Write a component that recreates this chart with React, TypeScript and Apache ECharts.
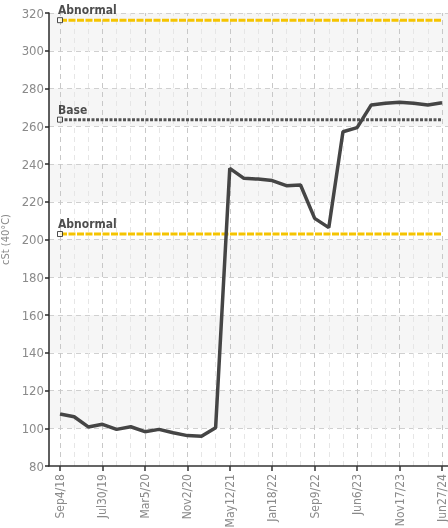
import React, { useEffect, useRef } from "react";
import * as echarts from "echarts";

const tickLabels = ["Sep4/18", "Jul30/19", "Mar5/20", "Nov2/20", "May12/21", "Jan18/22", "Sep9/22", "Jun6/23", "Nov17/23", "Jun27/24"];
const tickIndices = [0, 3, 6, 9, 12, 15, 18, 21, 24, 27];
const yTicks = [80, 100, 120, 140, 160, 180, 200, 220, 240, 260, 280, 300, 320];
const viscosity = [107.5, 106.1, 100.7, 102.1, 99.4, 100.8, 98.2, 99.4, 97.6, 96.1, 95.7, 100.3, 237.7, 232.4, 232.0, 231.2, 228.5, 228.9, 211.2, 206.3, 257.1, 259.3, 271.3, 272.2, 272.7, 272.2, 271.3, 272.5];
const limitNames = ["Abnormal", "Base", "Abnormal"];
const limitValues = [316.2, 263.5, 202.9];
const limitColors = ["#f5c400", "#555555", "#f5c400"];

const X_MIN = -0.7775;
const X_MAX = 27.424;
const FONT = "'DejaVu Sans Condensed', 'Liberation Sans Narrow', 'Roboto', sans-serif";

export default function App() {
  const ref = useRef<HTMLDivElement>(null);
  useEffect(() => {
    if (!ref.current) return;
    const chart = echarts.init(ref.current, null, { renderer: "svg" });
    const lastIdx = viscosity.length - 1;
    const vLines = viscosity.map((_, i) => ({
      xAxis: i,
      lineStyle: {
        color: i % 3 === 0 ? "#c8c8c8" : "#e6e6e6",
        type: [5, 4],
        width: 1,
      },
    }));
    const hLines = yTicks.slice(1).map((t) => ({
      yAxis: t,
      lineStyle: { color: "#d0d0d0", type: [5, 4], width: 1 },
    }));
    const bands: any[] = [];
    for (let i = 1; i < yTicks.length - 1; i += 2) {
      bands.push([{ yAxis: yTicks[i] }, { yAxis: yTicks[i + 1] }]);
    }
    const series: any[] = [
      {
        type: "line",
        data: [],
        silent: true,
        z: 0,
        markArea: {
          silent: true,
          z: 0,
          itemStyle: { color: "#f6f6f6" },
          label: { show: false },
          data: bands,
        },
      },
      {
        type: "line",
        data: [],
        silent: true,
        z: 1,
        markLine: {
          silent: true,
          z: 1,
          symbol: "none",
          label: { show: false },
          animation: false,
          data: [...hLines, ...vLines],
        },
      },
      {
        type: "line",
        data: [],
        silent: true,
        clip: false,
        z: 8,
        markLine: {
          silent: true,
          z: 8,
          symbol: "none",
          label: { show: false },
          animation: false,
          data: [{ xAxis: X_MIN, lineStyle: { color: "#2a2a2a", type: "solid", width: 1.5 } }],
        },
      },
    ];
    limitValues.forEach((v, k) => {
      series.push({
        type: "line",
        data: [[0, v], [lastIdx, v]],
        symbol: "none",
        silent: true,
        lineStyle: { color: limitColors[k], width: 3, type: k === 1 ? [3, 1.5] : [7, 1.5] },
        z: 3,
      });
      series.push({
        type: "scatter",
        data: [[0, v]],
        symbol: "rect",
        symbolSize: 5,
        silent: true,
        itemStyle: { color: "#ffffff", borderColor: "#222", borderWidth: 1 },
        label: {
          show: true,
          formatter: limitNames[k],
          position: [1, -13],
          color: "#222",
          fontSize: 12,
          fontWeight: "bold",
          fontFamily: FONT,
        },
        z: 5,
      });
    });
    series.push({
      type: "line",
      data: viscosity.map((v, i) => [i, v]),
      symbol: "none",
      lineStyle: { color: "#454545", width: 3.5 },
      z: 4,
    });

    chart.setOption({
      animation: false,
      grid: { left: 49, right: 0, top: 13, bottom: 62, outerBoundsMode: "none", containLabel: false },
      xAxis: {
        type: "value",
        min: X_MIN,
        max: X_MAX,
        axisLine: { show: true, onZero: false, lineStyle: { color: "#333", width: 1.5 } },
        axisTick: { show: true, length: 5, customValues: tickIndices, lineStyle: { color: "#333", width: 1.5 } },
        axisLabel: {
          customValues: tickIndices,
          rotate: 90,
          margin: 8,
          color: "#8a8a8a",
          fontSize: 12,
          fontFamily: FONT,
          formatter: (val: number) => {
            const idx = tickIndices.indexOf(Math.round(val));
            return idx >= 0 ? tickLabels[idx] : "";
          },
        },
        splitLine: { show: false },
        z: 10,
      },
      yAxis: {
        type: "value",
        min: yTicks[0],
        max: yTicks[yTicks.length - 1],
        interval: 20,
        position: "left",
        name: "cSt (40°C)",
        nameLocation: "middle",
        nameGap: 33,
        nameTextStyle: { color: "#8a8a8a", fontSize: 11, fontFamily: FONT },
        axisLine: { show: true, onZero: false, lineStyle: { color: "#2a2a2a", width: 1.5 } },
        axisTick: { show: true, length: 4, lineStyle: { color: "#2a2a2a", width: 1.5 } },
        axisLabel: { color: "#8a8a8a", fontSize: 13, fontFamily: FONT, margin: 5 },
        splitLine: { show: false },
        splitArea: { show: false },
        z: 10,
      },
      series,
    });
    return () => chart.dispose();
  }, []);
  return <div ref={ref} style={{ position: "fixed", left: 0, top: 0, width: 448, height: 528 }} />;
}
